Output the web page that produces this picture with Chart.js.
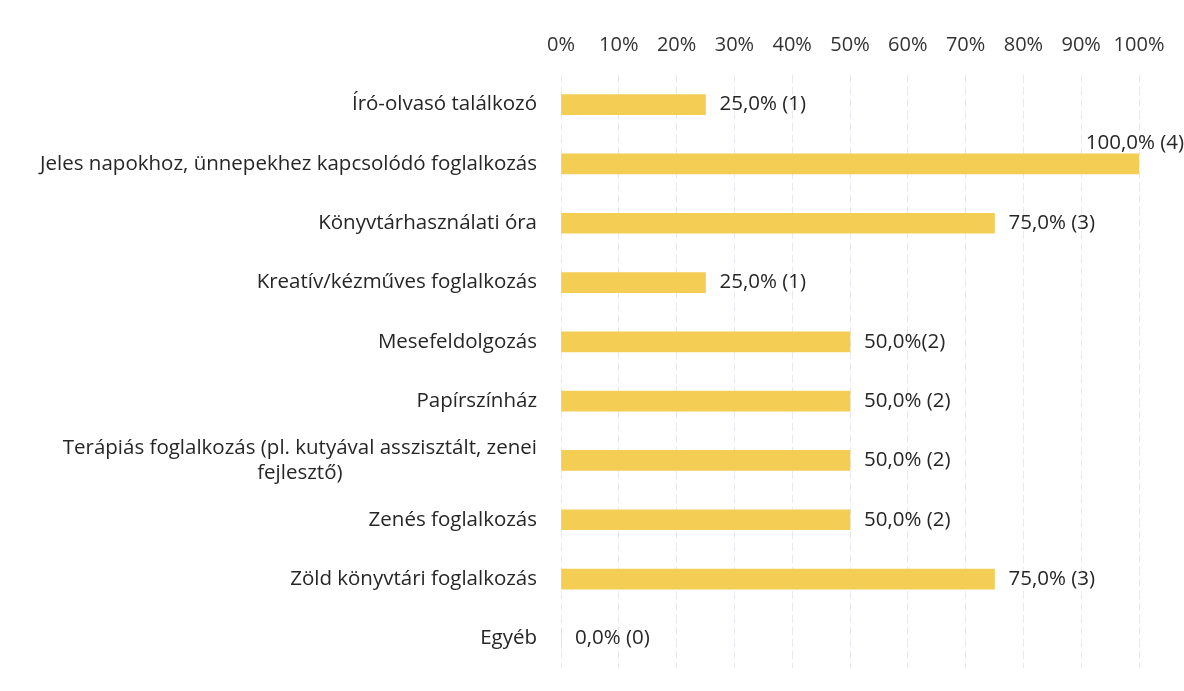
<!DOCTYPE html>
<html>
<head>
<meta charset="utf-8">
<script src="https://cdn.jsdelivr.net/npm/chart.js@4"></script>
<style>
    body { margin: 0; background: #fff; }
    #wrap { width: 1184px; height: 691px; }
</style>
</head>
<body>
<div id="wrap"><canvas id="activityChart" width="1184" height="691"></canvas></div>
<script>
// --- Chart data ---
const categories = [
    ['Író-olvasó találkozó'],
    ['Jeles napokhoz, ünnepekhez kapcsolódó foglalkozás'],
    ['Könyvtárhasználati óra'],
    ['Kreatív/kézműves foglalkozás'],
    ['Mesefeldolgozás'],
    ['Papírszínház'],
    ['Terápiás foglalkozás (pl. kutyával asszisztált, zenei', 'fejlesztő)'],
    ['Zenés foglalkozás'],
    ['Zöld könyvtári foglalkozás'],
    ['Egyéb']
];
const percentValues = [25, 100, 75, 25, 50, 50, 50, 50, 75, 0];
const valueLabels = ['25,0% (1)', '100,0% (4)', '75,0% (3)', '25,0% (1)', '50,0%(2)',
    '50,0% (2)', '50,0% (2)', '50,0% (2)', '75,0% (3)', '0,0% (0)'];
const tickValues = [0, 10, 20, 30, 40, 50, 60, 70, 80, 90, 100];

const FONT = '"Open Sans", sans-serif';
const TEXT_COLOR = '#262626';

// --- Category labels (right aligned, wrapped lines centered) ---
const categoryLabelPlugin = {
    id: 'categoryLabels',
    afterDraw(chart) {
        const ctx = chart.ctx;
        const yScale = chart.scales.y;
        const rightEdge = 537;
        const lineHeight = 25;
        ctx.save();
        ctx.font = '20.5px ' + FONT;
        ctx.fillStyle = TEXT_COLOR;
        ctx.textBaseline = 'middle';
        categories.forEach((lines, i) => {
            const yc = yScale.getPixelForValue(i);
            const maxW = Math.max(...lines.map(l => ctx.measureText(l).width));
            const top = yc - (lines.length - 1) * lineHeight / 2;
            lines.forEach((line, j) => {
                if (lines.length > 1) {
                    // wrapped label: lines centered under the widest one
                    ctx.textAlign = 'center';
                    ctx.fillText(line, rightEdge - maxW / 2, top + j * lineHeight);
                } else {
                    ctx.textAlign = 'right';
                    ctx.fillText(line, rightEdge, top);
                }
            });
        });
        ctx.restore();
    }
};

// --- Value labels at the end of each bar ---
const valueLabelPlugin = {
    id: 'valueLabels',
    afterDatasetsDraw(chart) {
        const ctx = chart.ctx;
        const meta = chart.getDatasetMeta(0);
        ctx.save();
        ctx.font = '20.5px ' + FONT;
        ctx.fillStyle = TEXT_COLOR;
        ctx.textAlign = 'left';
        ctx.textBaseline = 'middle';
        meta.data.forEach((bar, i) => {
            const text = valueLabels[i];
            const w = ctx.measureText(text).width;
            let x = bar.x + 14;
            let y = bar.y;
            if (x + w > chart.width) {
                // no room on the right: put it above the bar end
                x = chart.width - w;
                y -= 21;
            }
            ctx.fillText(text, x, y);
        });
        ctx.restore();
    }
};

const ctx = document.getElementById('activityChart').getContext('2d');
new Chart(ctx, {
    type: 'bar',
    data: {
        labels: categories,
        datasets: [{
            data: percentValues,
            backgroundColor: '#f4cd55',
            borderWidth: 0,
            barThickness: 20
        }]
    },
    options: {
        indexAxis: 'y',
        responsive: false,
        animation: false,
        layout: { padding: { top: 30, right: 45, bottom: 23, left: 0 } },
        scales: {
            x: {
                position: 'top',
                min: 0,
                max: 100,
                afterBuildTicks: (scale) => {
                    scale.ticks = tickValues.map(v => ({ value: v }));
                },
                afterFit: (scale) => { scale.height = 45; },
                ticks: {
                    color: '#333333',
                    font: { family: FONT, size: 20 },
                    padding: 18,
                    callback: (v) => v + '%'
                },
                grid: { color: '#e6eaef', drawTicks: false },
                border: { display: false, dash: [8, 4] }
            },
            y: {
                afterFit: (scale) => { scale.width = 561; },
                ticks: { display: false },
                grid: { display: false },
                border: { display: false }
            }
        },
        plugins: {
            legend: { display: false },
            tooltip: { enabled: false }
        }
    },
    plugins: [categoryLabelPlugin, valueLabelPlugin]
});
</script>
</body>
</html>
